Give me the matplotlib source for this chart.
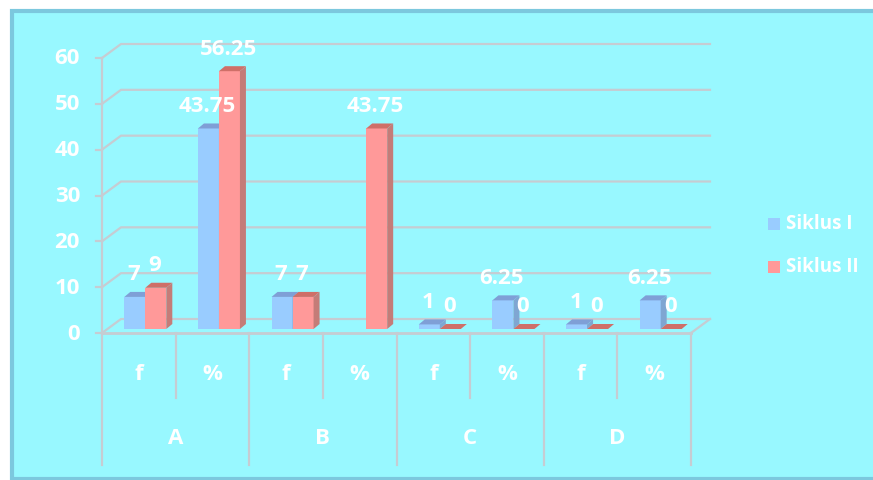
import matplotlib
matplotlib.use('Agg')
import matplotlib.pyplot as plt
from matplotlib.patches import Rectangle
import numpy as np

## datos
kelompok = ['A', 'B', 'C', 'D']
sub = ['f', '%', 'f', '%', 'f', '%', 'f', '%']
siklus1 = [7, 43.75, 7, 0, 1, 6.25, 1, 6.25]
siklus2 = [9, 56.25, 7, 43.75, 0, 0, 0, 0]
label1 = ['7', '43.75', '7', '', '1', '6.25', '1', '6.25']
label2 = ['9', '56.25', '7', '43.75', '0', '0', '0', '0']
yticks = [0, 10, 20, 30, 40, 50, 60]

W, H = 873, 480
plt.rcParams['font.family'] = ['Open Sans', 'DejaVu Sans']
fig = plt.figure(figsize=(W/100, H/100), dpi=100, facecolor='white')

# marco del grafico
fig.patches.append(Rectangle((12/W, 1-478.5/H), 870/W, 467.5/H, transform=fig.transFigure,
                             facecolor='#98f8ff', edgecolor='#7cc8de', linewidth=3, zorder=-1))

# plano frontal: x 102-691, y 333-58
ax = fig.add_axes([102/W, 1-333/H, 589/W, 275/H])
ax.set_xlim(0, 8)
ax.set_ylim(0, 60)
ax.axis('off')

px = 8/589
py = 60/275
dx = 19*px
dy = 14*py
gris = '#c6ccd2'
blanco = 'white'

# rejilla 3d
for v in yticks:
    ax.plot([0, dx, 8+dx], [v, v+dy, v+dy], color=gris, lw=1.6, clip_on=False, zorder=1)
    ax.plot([-6*px, 0], [v, v], color=gris, lw=1.6, clip_on=False, zorder=1)
    ax.text(-22*px, v-1*py, str(v), color=blanco, fontsize=16, fontweight='bold', ha='right',
            va='center', clip_on=False, zorder=6)
ax.plot([0, 8], [0, 0], color=gris, lw=2, clip_on=False, zorder=1)
ax.plot([0, 0], [0, 60], color=gris, lw=1.6, clip_on=False, zorder=1)
ax.plot([8, 8+dx], [0, dy], color=gris, lw=1.6, clip_on=False, zorder=1)

# lineas del eje de categorias
for i in range(9):
    largo = 132 if i % 2 == 0 else 65
    ax.plot([i, i], [0, -largo*py], color=gris, lw=1.6, clip_on=False, zorder=1)
for i, s in enumerate(sub):
    ax.text(i+0.5, -41*py, s, color=blanco, fontsize=16, fontweight='bold', ha='center',
            va='center', clip_on=False)
for i, k in enumerate(kelompok):
    ax.text(2*i+1, -106*py, k, color=blanco, fontsize=16, fontweight='bold', ha='center',
            va='center', clip_on=False)

# barras
ancho = 21*px
base = 4*py
lado = 6*px
alto = 5*py


def barra(x, v, frente, arriba, costado):
    ax.bar(x, v, ancho, bottom=base, align='edge', color=frente, linewidth=0, zorder=3)
    t = base+v
    ax.fill([x, x+lado, x+ancho+lado, x+ancho], [t, t+alto, t+alto, t], color=arriba,
            linewidth=0, zorder=3, clip_on=False)
    ax.fill([x+ancho, x+ancho+lado, x+ancho+lado, x+ancho],
            [base, base+alto, t+alto, t], color=costado, linewidth=0, zorder=3, clip_on=False)


for i in range(8):
    x1 = i+0.5+6.5*px-ancho
    x2 = x1+ancho
    if siklus1[i] > 0:
        barra(x1, siklus1[i], '#99ccff', '#7f9fd6', '#7fa6d2')
    barra(x2, siklus2[i], '#ff9999', '#cf6f68', '#c47c78')

# etiquetas de valores
for i in range(8):
    x1 = i+0.5+6.5*px-ancho
    x2 = x1+ancho
    if label1[i]:
        ax.text(x1+ancho/2-1*px, base+siklus1[i]+alto+17*py, label1[i], color=blanco, fontsize=16,
                fontweight='bold', ha='center', va='center', clip_on=False, zorder=6)
    ax.text(x2+ancho/2-1*px, base+siklus2[i]+alto+17*py, label2[i], color=blanco, fontsize=16,
            fontweight='bold', ha='center', va='center', clip_on=False, zorder=6)

# leyenda
for nombre, c, yy in [('Siklus I', '#99ccff', 224), ('Siklus II', '#ff9999', 267)]:
    fig.patches.append(Rectangle((768/W, 1-(yy+6)/H), 12/W, 12/H, transform=fig.transFigure,
                                 facecolor=c, edgecolor='none'))
    fig.text(786/W, 1-yy/H, nombre, color=blanco, fontsize=13.5, fontweight='bold', ha='left', va='center')

fig.savefig('out.png', dpi=100)
